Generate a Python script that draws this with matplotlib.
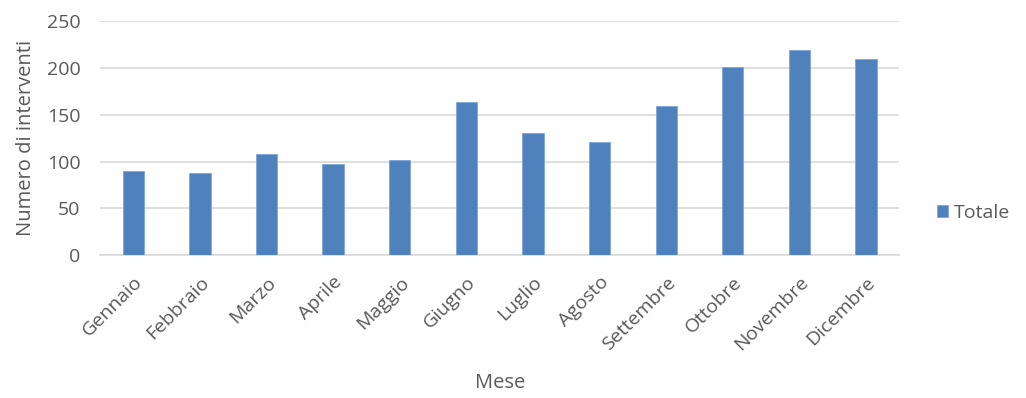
import matplotlib.pyplot as plt
import numpy as np

plt.rcParams['font.family'] = ['Open Sans', 'DejaVu Sans']

MESI = ['Gennaio', 'Febbraio', 'Marzo', 'Aprile', 'Maggio', 'Giugno',
        'Luglio', 'Agosto', 'Settembre', 'Ottobre', 'Novembre', 'Dicembre']
TOTALE = [90, 88, 108, 98, 102, 164, 131, 121, 160, 201, 220, 210]
Y_TICKS = [0, 50, 100, 150, 200, 250]

BAR_COLOR = '#4F81BD'
TEXT_COLOR = '#595959'
GRID_COLOR = '#D9D9D9'

fig = plt.figure(figsize=(10.26, 3.98), dpi=100)
ax = fig.add_axes([0.0975, 0.359, 0.779, 0.587])

x = np.arange(len(MESI))
ax.bar(x, TOTALE, width=0.32, color=BAR_COLOR, edgecolor='#7EA6DA',
       linewidth=0.6, label='Totale', zorder=3)

ax.set_xlim(-0.5, len(MESI) - 0.5)
ax.set_ylim(0, 250)
ax.set_yticks(Y_TICKS)
ax.set_xticks(x)
ax.set_xticklabels(MESI, rotation=45, ha='right', rotation_mode='anchor')

ax.yaxis.grid(True, color=GRID_COLOR, linewidth=1.2, zorder=0)
for s in ['top', 'right', 'left']:
    ax.spines[s].set_visible(False)
ax.spines['bottom'].set_color(GRID_COLOR)
ax.spines['bottom'].set_linewidth(1.2)

ax.tick_params(axis='both', length=0, labelsize=14, colors=TEXT_COLOR)
ax.tick_params(axis='x', pad=13)
ax.tick_params(axis='y', pad=14)

ax.set_xlabel('Mese', fontsize=14.5, color=TEXT_COLOR, labelpad=14)
ax.set_ylabel('Numero di interventi', fontsize=14.5, color=TEXT_COLOR, labelpad=8)

ax.legend(loc='center left', bbox_to_anchor=(1.025, 0.18), frameon=False,
          fontsize=14, labelcolor=TEXT_COLOR, handlelength=0.6,
          handleheight=0.6, handletextpad=0.3)

fig.savefig('out.png', dpi=100)
